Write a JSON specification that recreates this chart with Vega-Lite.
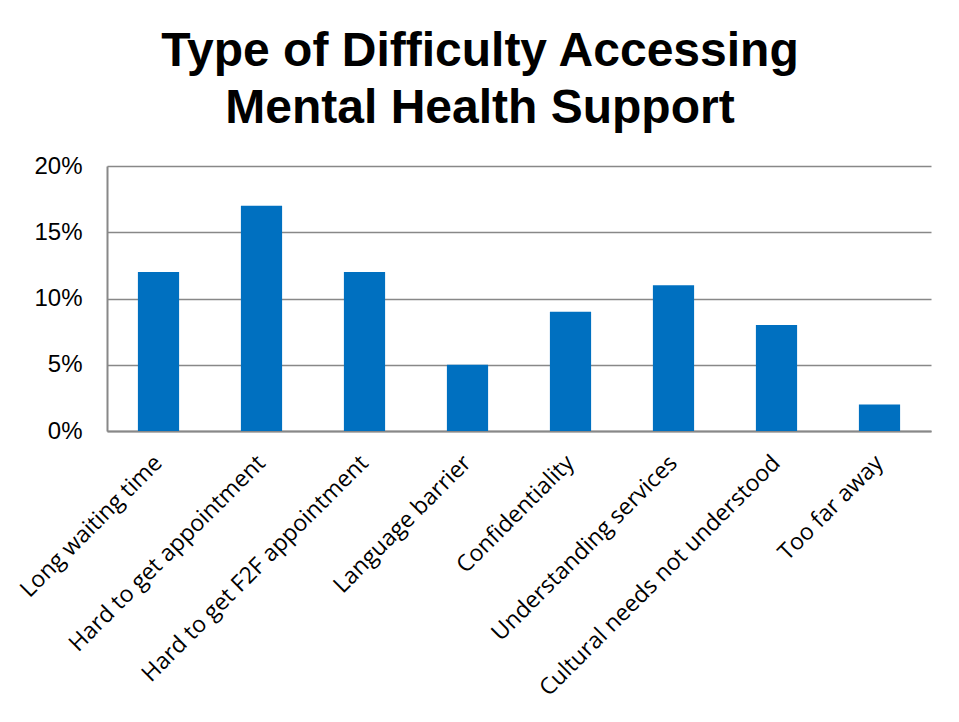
{
  "$schema": "https://vega.github.io/schema/vega-lite/v6.json",
  "width": 824,
  "height": 265,
  "autosize": "none",
  "padding": {"left": 107, "top": 166, "right": 28, "bottom": 291},
  "background": "white",
  "title": {
    "text": ["Type of Difficulty Accessing", "Mental Health Support"],
    "font": "Liberation Sans",
    "fontSize": 48,
    "fontWeight": "bold",
    "lineHeight": 57,
    "color": "black",
    "anchor": "middle",
    "dx": -39,
    "offset": 21
  },
  "data": {
    "values": [
      {"category": "Long waiting time", "value": 0.12},
      {"category": "Hard to get appointment", "value": 0.17},
      {"category": "Hard to get F2F appointment", "value": 0.12},
      {"category": "Language barrier", "value": 0.05},
      {"category": "Confidentiality", "value": 0.09},
      {"category": "Understanding services", "value": 0.11},
      {"category": "Cultural needs not understood", "value": 0.08},
      {"category": "Too far away", "value": 0.02}
    ]
  },
  "mark": {"type": "bar", "color": "#0070C0"},
  "encoding": {
    "x": {
      "field": "category",
      "type": "nominal",
      "sort": null,
      "scale": {"paddingInner": 0.6, "paddingOuter": 0.3},
      "axis": {
        "title": null,
        "labelAngle": -45,
        "labelAlign": "right",
        "labelBaseline": "middle",
        "labelFont": "Open Sans",
        "labelFontSize": 23,
        "labelColor": "black",
        "labelPadding": 28,
        "labelDx": -10,
        "ticks": false,
        "domainColor": "#888888",
        "domainWidth": 2,
        "labelLimit": 500
      }
    },
    "y": {
      "field": "value",
      "type": "quantitative",
      "scale": {"domain": [0, 0.2]},
      "axis": {
        "title": null,
        "format": ".0%",
        "values": [0, 0.05, 0.1, 0.15, 0.2],
        "labelFont": "Liberation Sans",
        "labelFontSize": 24,
        "labelColor": "black",
        "labelPadding": 25,
        "ticks": false,
        "domainColor": "#888888",
        "domainWidth": 2,
        "gridColor": "#888888",
        "gridWidth": 1.5
      }
    }
  },
  "config": {"view": {"stroke": null}}
}
